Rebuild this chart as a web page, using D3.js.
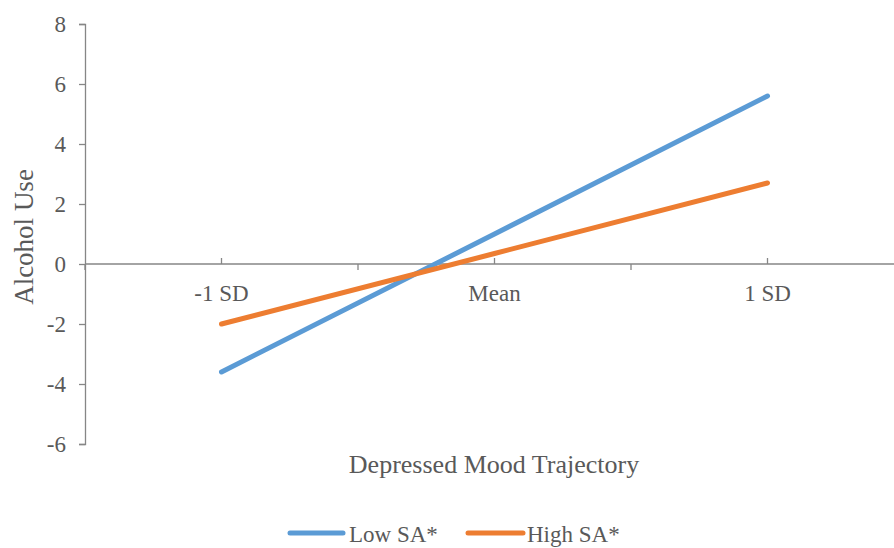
<!DOCTYPE html>
<html>
<head>
<meta charset="utf-8">
<script src="https://cdn.jsdelivr.net/npm/d3@7"></script>
</head>
<body style="margin:0;padding:0;background:#fff">
<svg id="chart" width="894" height="548" style="display:block"></svg>
<script>
const categories = ["-1 SD", "Mean", "1 SD"];
const lowSA = [-3.6, 1.0, 5.6];
const highSA = [-2.0, 0.35, 2.7];
const yTicks = [-6, -4, -2, 0, 2, 4, 6, 8];
const seriesNames = ["Low SA*", "High SA*"];
const seriesColors = ["#5b9bd5", "#ed7d31"];
const xTitle = "Depressed Mood Trajectory";
const yTitle = "Alcohol Use";

const FONT = "Liberation Serif";
const svg = d3.select("#chart");
const axisColor = "#868686";
const textColor = "#595959";

const y = d3.scaleLinear().domain([-6, 8]).range([444, 24]);
const x = d3.scaleBand().domain(categories).range([85, 904]).paddingInner(0).paddingOuter(0);
const cx = c => x(c) + x.bandwidth() / 2;

// Y axis
const yAxis = d3.axisLeft(y).tickValues(yTicks).tickSize(6).tickPadding(13);
const gy = svg.append("g").attr("transform", "translate(85,0)").call(yAxis);
gy.attr("font-family", FONT).attr("font-size", 23);
gy.select(".domain").attr("stroke", axisColor).attr("stroke-width", 1.3);
gy.selectAll(".tick line").attr("stroke", axisColor).attr("stroke-width", 1.3);
gy.selectAll(".tick text").attr("fill", textColor)
  .attr("dy", "0.34em").text(d => d < 0 ? "-" + Math.abs(d) : d);

// X axis at y=0
const y0 = y(0);
const gx = svg.append("g");
gx.append("line").attr("x1", 85).attr("x2", 904).attr("y1", y0).attr("y2", y0)
  .attr("stroke", axisColor).attr("stroke-width", 1.3);
const bounds = categories.map(c => x(c)).concat([x(categories[categories.length - 1]) + x.bandwidth()]);
gx.selectAll(".btick").data(bounds).enter().append("line")
  .attr("x1", d => d).attr("x2", d => d).attr("y1", y0).attr("y2", y0 + 6)
  .attr("stroke", axisColor).attr("stroke-width", 1.3);
gx.selectAll(".ctick").data(categories).enter().append("line")
  .attr("x1", d => cx(d)).attr("x2", d => cx(d)).attr("y1", y0).attr("y2", y0 - 6)
  .attr("stroke", axisColor).attr("stroke-width", 1.3);
gx.selectAll(".clabel").data(categories).enter().append("text")
  .attr("x", d => cx(d)).attr("y", y0 + 37).attr("text-anchor", "middle")
  .attr("fill", textColor).attr("font-family", FONT).attr("font-size", 23).text(d => d);

// Lines
const line = d3.line().x((d, i) => cx(categories[i])).y(d => y(d));
[lowSA, highSA].forEach((s, i) => {
  svg.append("path").datum(s).attr("d", line).attr("fill", "none")
    .attr("stroke", seriesColors[i]).attr("stroke-width", 5)
    .attr("stroke-linecap", "round").attr("stroke-linejoin", "round");
});

// Titles
svg.append("text").attr("x", 494).attr("y", 473).attr("text-anchor", "middle")
  .attr("fill", textColor).attr("font-family", FONT).attr("font-size", 26).text(xTitle);
svg.append("text").attr("transform", "translate(33,237) rotate(-90)").attr("text-anchor", "middle")
  .attr("fill", textColor).attr("font-family", FONT).attr("font-size", 27).text(yTitle);

// Legend
const legendItems = [
  { x1: 290, x2: 343, tx: 349 },
  { x1: 468, x2: 523, tx: 527 }
];
legendItems.forEach((it, i) => {
  svg.append("line").attr("x1", it.x1).attr("x2", it.x2).attr("y1", 533).attr("y2", 533)
    .attr("stroke", seriesColors[i]).attr("stroke-width", 5).attr("stroke-linecap", "round");
  svg.append("text").attr("x", it.tx).attr("y", 542).attr("fill", textColor)
    .attr("font-family", FONT).attr("font-size", 23).text(seriesNames[i]);
});
</script>
</body>
</html>
